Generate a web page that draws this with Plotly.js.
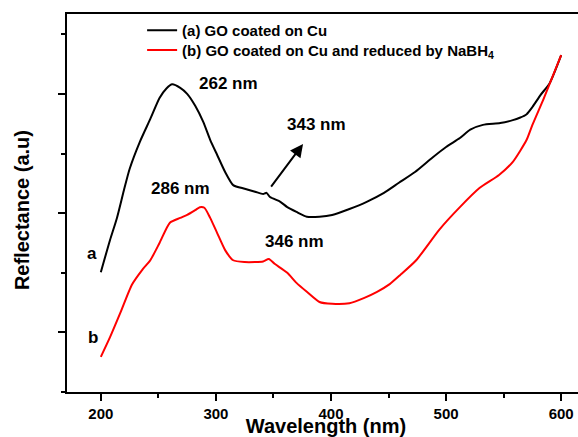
<!DOCTYPE html>
<html>
<head>
<meta charset="utf-8">
<script src="https://cdn.plot.ly/plotly-3.0.1.min.js"></script>
<style>html,body{margin:0;padding:0;overflow:hidden;background:#fff;width:578px;height:437px;}</style>
</head>
<body>
<div id="chart"></div>
<script>
// Curve (a): GO coated on Cu
const waveA = [200,208,214,220,225,234,243,251,257,262,269,275,282,289,295,301,308,315,325,334,341,344,347,356,362,370,379,390,401,416,431,446,459,473,488,500,512,521,532,547,558,564,570,575,582,590,600];
const reflA = [2.01,2.55,2.92,3.38,3.74,4.20,4.58,4.93,5.09,5.16,5.10,5.00,4.80,4.53,4.23,3.98,3.69,3.47,3.41,3.36,3.32,3.34,3.27,3.19,3.10,3.02,2.94,2.94,2.97,3.07,3.19,3.34,3.51,3.69,3.93,4.11,4.26,4.40,4.48,4.51,4.56,4.60,4.66,4.78,4.98,5.18,5.65];
// Curve (b): GO coated on Cu and reduced by NaBH4
const waveB = [200,208,217,227,236,243,251,260,269,275,282,286,290,295,301,308,315,325,334,341,346,351,362,370,379,390,401,416,429,440,451,460,474,494,512,529,546,558,570,575,585,600];
const reflB = [0.59,0.92,1.33,1.80,2.05,2.21,2.50,2.84,2.92,2.97,3.05,3.10,3.09,2.92,2.67,2.38,2.21,2.18,2.18,2.19,2.23,2.15,2.00,1.83,1.68,1.51,1.48,1.49,1.58,1.68,1.81,1.96,2.21,2.72,3.10,3.42,3.64,3.86,4.23,4.48,4.93,5.65];
const seriesNames = ["(a) GO coated on Cu", "(b) GO coated on Cu and reduced by NaBH<sub>4</sub>"];
const xTicks = [200,300,400,500,600];

const F = "Arial, 'Liberation Sans', sans-serif";

const traces = [
  {x: waveA, y: reflA, type: 'scatter', mode: 'lines', name: seriesNames[0], legend: 'legend',
   line: {color: '#000000', width: 2, shape: 'spline', smoothing: 0.6}},
  {x: waveB, y: reflB, type: 'scatter', mode: 'lines', name: seriesNames[1], legend: 'legend2',
   line: {color: '#ff0000', width: 2, shape: 'spline', smoothing: 0.6}}
];

const ann = (x, y, t, size) => ({x: x, y: y, xref: 'x', yref: 'y', text: '<b>' + t + '</b>', showarrow: false,
  font: {family: F, size: size, color: '#000'}});

const legFont = {family: F, size: 15, color: '#000', weight: 'bold'};

const layout = {
  width: 600, height: 437,
  margin: {l: 67, r: 15, t: 14, b: 45},
  paper_bgcolor: '#fff', plot_bgcolor: '#fff',
  showlegend: true,
  legend: {x: 0.145, y: 1.0, xanchor: 'left', yanchor: 'top', bgcolor: 'rgba(0,0,0,0)', font: legFont},
  legend2: {x: 0.145, y: 0.948, xanchor: 'left', yanchor: 'top', bgcolor: 'rgba(0,0,0,0)', font: legFont},
  xaxis: {
    range: [170.6, 620.7], tickvals: xTicks, ticktext: xTicks.map(String),
    ticks: 'outside', ticklen: 7, tickwidth: 2, tickcolor: '#000',
    minor: {dtick: 50, tick0: 150, ticks: 'outside', ticklen: 4, tickwidth: 2, tickcolor: '#000'},
    showline: true, linecolor: '#000', linewidth: 2, mirror: true,
    showgrid: false, zeroline: false,
    tickfont: {family: F, size: 15, color: '#000', weight: 'bold'},
    title: {text: '<b>Wavelength (nm)</b>', font: {family: F, size: 20, color: '#000'}, standoff: 10}
  },
  yaxis: {
    range: [0, 6.34], tick0: 1, dtick: 2,
    ticks: 'outside', ticklen: 7, tickwidth: 2, tickcolor: '#000', showticklabels: false,
    minor: {dtick: 1, tick0: 0, ticks: 'outside', ticklen: 4, tickwidth: 2, tickcolor: '#000'},
    showline: true, linecolor: '#000', linewidth: 2, mirror: true,
    showgrid: false, zeroline: false
  },
  annotations: [
    {x: -0.087, y: 0.481, xref: 'paper', yref: 'paper', xanchor: 'center', yanchor: 'middle',
     text: '<b>Reflectance (a.u)</b>', textangle: -90, showarrow: false,
     font: {family: F, size: 20, color: '#000'}},
    ann(310.5, 5.18, '262 nm', 17),
    ann(387, 4.48, '343 nm', 17),
    ann(268.8, 3.42, '286 nm', 17),
    ann(368.7, 2.52, '346 nm', 17),
    ann(192.4, 2.33, 'a', 17),
    ann(193.2, 0.91, 'b', 17),
    {x: 375.7, y: 4.16, xref: 'x', yref: 'y', ax: 347, ay: 3.42, axref: 'x', ayref: 'y',
     text: '', showarrow: true, arrowhead: 2, arrowsize: 1.3, arrowwidth: 2, arrowcolor: '#000'}
  ]
};

Plotly.newPlot('chart', traces, layout, {displayModeBar: false, staticPlot: true});
</script>
</body>
</html>
